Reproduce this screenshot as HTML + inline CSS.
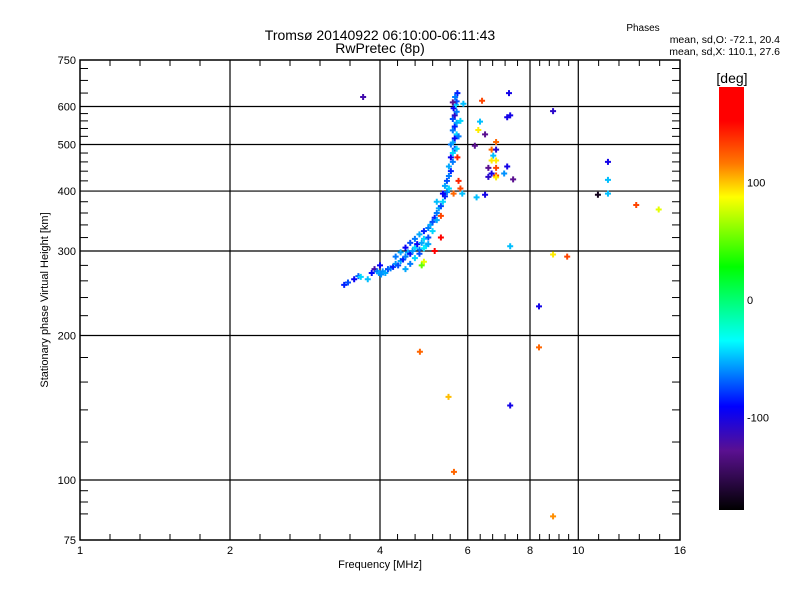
<!DOCTYPE html>
<html><head><meta charset="utf-8"><style>
body{margin:0;background:#fff;}
svg text{font-family:"Liberation Sans",sans-serif;fill:#000;}
</style></head><body>
<svg id="chart" width="800" height="600" xmlns="http://www.w3.org/2000/svg">
<defs>
<linearGradient id="cb" x1="0" y1="0" x2="0" y2="1">
<stop offset="0" stop-color="#ff0000"/><stop offset="0.08" stop-color="#ff0000"/>
<stop offset="0.18" stop-color="#ff7700"/><stop offset="0.26" stop-color="#ffff00"/>
<stop offset="0.425" stop-color="#00ff00"/><stop offset="0.6" stop-color="#00ffff"/>
<stop offset="0.755" stop-color="#0000ff"/><stop offset="0.86" stop-color="#5a1090"/>
<stop offset="1" stop-color="#000000"/>
</linearGradient>
</defs>
<g id="grid"></g>
<g id="ticks"></g>
<g id="marks"></g>
<rect x="80" y="60" width="600" height="480" fill="none" stroke="#000" stroke-width="1.5"/>
<text x="380" y="40" font-size="14" text-anchor="middle">Tromsø 20140922 06:10:00-06:11:43</text>
<text x="380" y="53" font-size="14" text-anchor="middle">RwPretec (8p)</text>
<text x="643" y="31" font-size="10" text-anchor="middle">Phases</text>
<text x="780" y="43" font-size="10.5" text-anchor="end">mean, sd,O: -72.1, 20.4</text>
<text x="780" y="55" font-size="10.5" text-anchor="end">mean, sd,X: 110.1, 27.6</text>
<text x="380" y="568" font-size="11" text-anchor="middle">Frequency [MHz]</text>
<text transform="translate(48,300) rotate(-90)" font-size="11" text-anchor="middle">Stationary phase Virtual Height [km]</text>
<rect x="719" y="87" width="25" height="423" fill="url(#cb)"/>
<text x="732" y="83" font-size="14" text-anchor="middle">[deg]</text>
<g id="cbticks"></g>
</svg>
<script>
const xTicks=[1,2,4,6,8,10,16];
const yTicks=[75,100,200,300,400,500,600,750];
const yGrid=[100,200,300,400,500,600];
const xGrid=[2,4,6,8,10];
const yMinor=[85,90,95,120,140,160,180,220,240,260,280,320,340,360,380,420,440,460,480,520,540,560,580,640,680,720];
const cbTicks=[100,0,-100];
const freq=[3.39,3.45,3.55,3.62,3.66,3.78,3.85,3.9,3.95,3.98,4.0,4.02,4.05,4.1,4.15,4.2,4.25,4.3,4.35,4.4,4.45,4.5,4.55,4.6,4.65,4.7,4.75,4.8,4.85,4.9,4.95,5.0,4.5,4.6,4.7,4.8,4.9,5.0,4.3,4.4,4.5,4.6,4.7,4.8,4.9,5.0,5.05,5.1,5.1,5.15,5.2,5.25,5.3,5.35,5.2,5.3,5.4,5.45,5.5,5.35,5.4,5.45,5.5,5.55,5.5,5.6,5.55,5.6,5.65,5.55,5.6,5.65,5.7,5.6,5.65,5.7,5.6,5.65,5.7,5.62,5.68,5.7,5.66,5.72,5.6,5.75,5.8,5.85,5.7,5.72,5.62,5.3,5.15,4.9,4.85,5.2,5.8,5.75,5.88,
3.70,6.41,7.26,8.9,7.2,6.84,6.7,6.84,6.75,6.7,6.84,6.6,6.84,7.2,6.7,6.84,7.1,6.6,6.84,7.4,6.5,6.3,6.35,6.2,6.5,6.25,7.3,7.3,4.81,5.49,5.63,7.3,8.34,8.34,8.9,9.5,8.9,10.95,11.47,11.47,11.47,13.07,14.5];
const height=[255,258,262,266,265,262,270,275,272,270,280,268,272,270,275,276,278,282,280,286,288,292,298,296,300,305,310,302,312,318,308,320,275,282,290,296,304,310,292,298,305,312,318,325,330,335,340,345,330,352,360,368,372,380,348,355,390,398,405,395,410,420,430,440,450,460,470,480,490,500,505,515,525,535,545,555,565,575,585,595,605,615,628,640,612,420,405,395,490,470,395,320,300,285,280,380,560,520,608,
628,617,640,587,570,506,488,488,474,463,463,447,447,450,435,431,435,428,427,423,525,536,558,497,393,388,307,575,185,149,104,143,230,189,84,292,295,393,460,422,395,374,366];
const phase=[-85,-75,-95,-70,-45,-50,-90,-120,-65,-55,-95,-60,-60,-55,-75,-65,-85,-60,-75,-55,-85,-65,-55,-90,-60,-45,-95,-65,-55,-45,-45,-75,-55,-65,-45,-75,-40,-55,-65,-55,-95,-75,-65,-55,-85,-65,-55,-75,-45,-85,-65,-55,-75,-45,-55,130,-85,-65,-45,-95,-55,-75,-65,-85,-55,-65,-95,-45,-75,-65,-55,-95,-45,-65,-85,-55,-75,-110,-65,-95,-45,-75,-65,-85,-130,140,130,-50,-45,140,120,150,160,80,50,-50,-45,-65,-50,
-120,130,-100,-110,-100,120,120,-110,-50,90,90,-130,130,-100,-100,130,-60,-110,90,-130,-130,90,-50,-130,-100,-50,-50,-100,120,100,120,-100,-100,120,110,130,90,-170,-100,-50,-50,130,80];
const svg=document.getElementById('chart');
const NS='http://www.w3.org/2000/svg';
function X(f){return 80+600*Math.log(f)/Math.log(16);}
function Y(h){return 540-480*Math.log10(h/75);}
function CY(p){return 300-p*423/360;}
function mk(t,a){const e=document.createElementNS(NS,t);for(const k in a)e.setAttribute(k,a[k]);return e;}
const stops=[[180,[255,0,0]],[151,[255,0,0]],[115,[255,119,0]],[86,[255,255,0]],[27,[0,255,0]],[-36,[0,255,255]],[-92,[0,0,255]],[-130,[90,16,144]],[-180,[0,0,0]]];
function col(p){for(let i=0;i<stops.length-1;i++){const a=stops[i],b=stops[i+1];if(p<=a[0]&&p>=b[0]){const t=(a[0]-p)/(a[0]-b[0]);const c=a[1].map((v,j)=>Math.round(v+(b[1][j]-v)*t));return 'rgb('+c.join(',')+')';}}return '#000';}
const grid=document.getElementById('grid'),ticks=document.getElementById('ticks'),marks=document.getElementById('marks'),cbt=document.getElementById('cbticks');
xGrid.forEach(f=>{const l=mk('line',{x1:X(f),x2:X(f),y1:60,y2:540,stroke:'#000','stroke-width':1.2});

grid.appendChild(l);});
yGrid.forEach(h=>{const l=mk('line',{x1:80,x2:680,y1:Y(h),y2:Y(h),stroke:'#000','stroke-width':1.2});

grid.appendChild(l);});
xTicks.forEach(f=>{const t=mk('text',{x:X(f),y:554,'font-size':11,'text-anchor':'middle'});t.textContent=f;

ticks.appendChild(t);});
yTicks.forEach(h=>{const t=mk('text',{x:76,y:Y(h)+4,'font-size':11,'text-anchor':'end'});t.textContent=h;

ticks.appendChild(t);});
yMinor.forEach(h=>{[[80,88],[672,680]].forEach(s=>{const l=mk('line',{x1:s[0],x2:s[1],y1:Y(h),y2:Y(h),stroke:'#000'});

ticks.appendChild(l);});});
for(let s=0;s<6;s++){const a=X(xTicks[s]),b=X(xTicks[s+1]);const n=5;for(let k=1;k<n;k++){const x=a+(b-a)*k/n;[[534,540],[60,66]].forEach(v=>{const l=mk('line',{x1:x,x2:x,y1:v[0],y2:v[1],stroke:'#000'});

ticks.appendChild(l);});}}
cbTicks.forEach(p=>{const t=mk('text',{x:747,y:CY(p)+4,'font-size':11});t.textContent=p;

cbt.appendChild(t);});
for(let i=0;i<freq.length;i++){const x=X(freq[i]),y=Y(height[i]);const g=mk('path',{d:'M'+(x-3)+' '+y+'h6M'+x+' '+(y-3)+'v6',stroke:col(phase[i]),'stroke-width':2});

marks.appendChild(g);}
</script>
</body></html>
